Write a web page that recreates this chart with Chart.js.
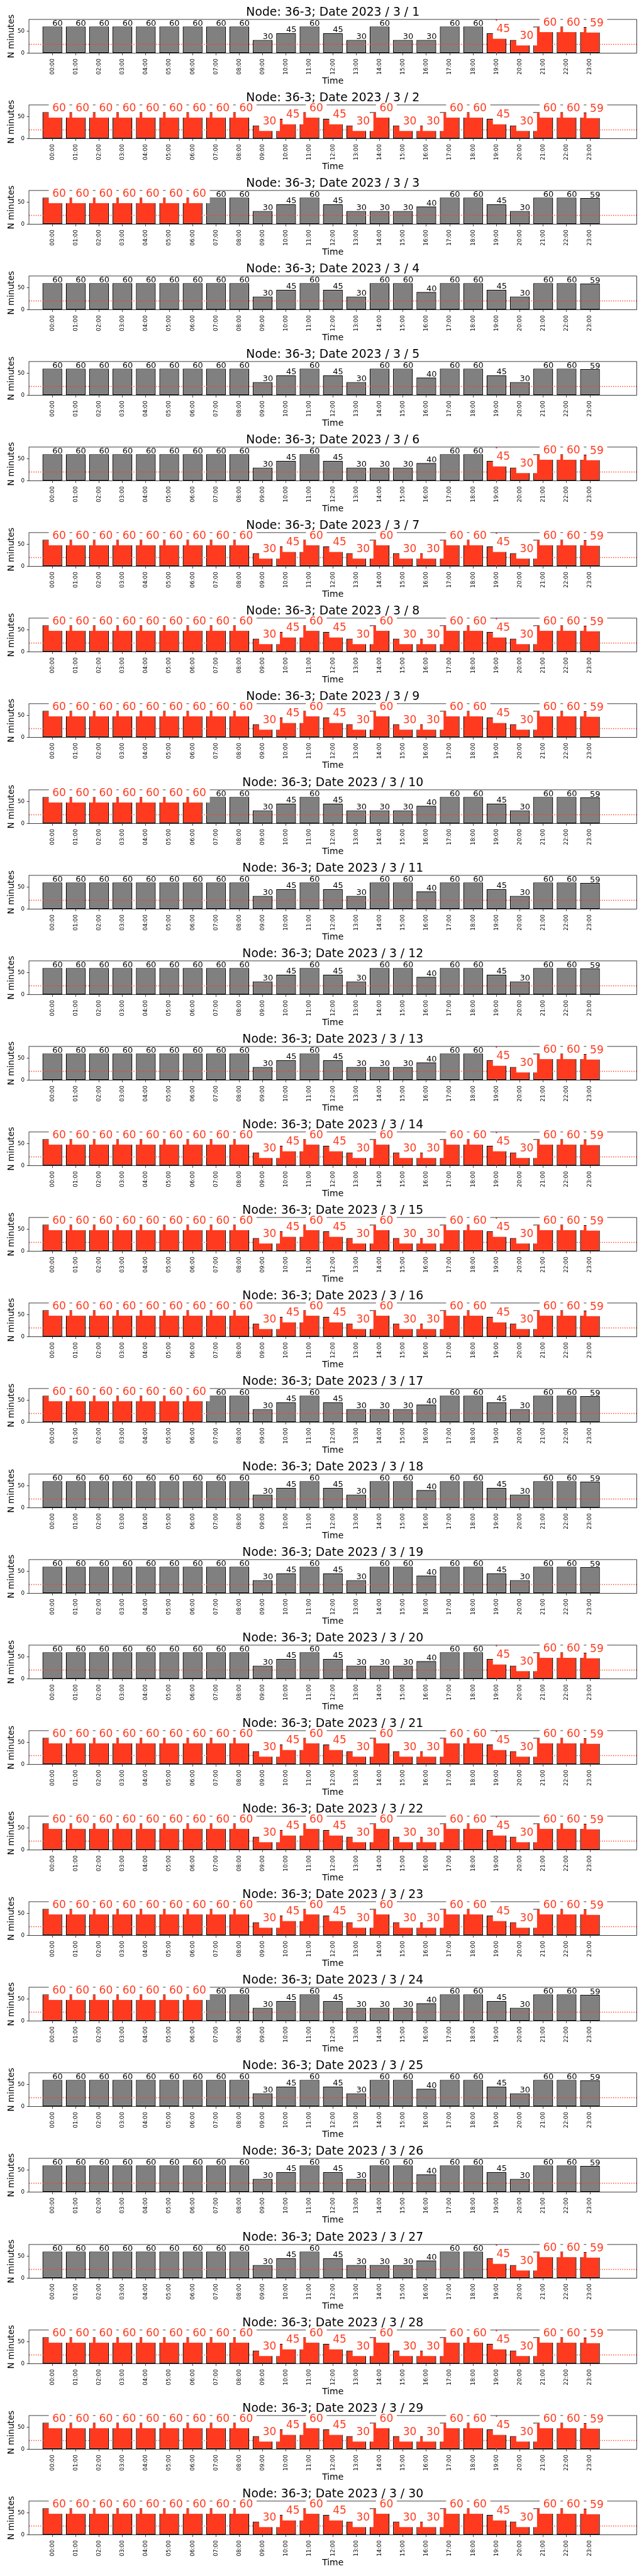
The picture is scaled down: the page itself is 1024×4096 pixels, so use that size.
<!DOCTYPE html>
<html>
<head>
<meta charset="utf-8">
<script src="https://cdn.jsdelivr.net/npm/chart.js@4.4.0/dist/chart.umd.min.js"></script>
<style>
html, body { margin: 0; padding: 0; background: #fff; }
#wrap { position: relative; width: 1024px; height: 4096px; overflow: hidden; background: #fff; }
.panel { position: absolute; left: 0; }
</style>
</head>
<body>
<div id="wrap"></div>
<script>
// Everything below is laid out in reference pixels and shrunk by S
const S = 0.682;

const hours = ['00:00', '01:00', '02:00', '03:00', '04:00', '05:00', '06:00', '07:00',
               '08:00', '09:00', '10:00', '11:00', '12:00', '13:00', '14:00', '15:00',
               '16:00', '17:00', '18:00', '19:00', '20:00', '21:00', '22:00', '23:00'];

// The three hourly profiles that repeat through the month
const profileA = [60, 60, 60, 60, 60, 60, 60, 60, 60, 30, 45, 60, 45, 30, 60, 30, 30, 60, 60, 45, 30, 60, 60, 59];
const profileB = [60, 60, 60, 60, 60, 60, 60, 60, 60, 30, 45, 60, 45, 30, 30, 30, 40, 60, 60, 45, 30, 60, 60, 59];
const profileC = [60, 60, 60, 60, 60, 60, 60, 60, 60, 30, 45, 60, 45, 30, 60, 60, 40, 60, 60, 45, 30, 60, 60, 59];

const days = [1, 2, 3, 4, 5, 6, 7, 8, 9, 10, 11, 12, 13, 14, 15, 16, 17, 18, 19, 20, 21, 22, 23, 24, 25, 26, 27, 28, 29, 30];
const dayProfile = ['A', 'A', 'B', 'C', 'C', 'B', 'A', 'A', 'A', 'B', 'C', 'C', 'B', 'A', 'A',
                    'A', 'B', 'C', 'C', 'B', 'A', 'A', 'A', 'B', 'C', 'C', 'B', 'A', 'A', 'A'];
// which hours are flagged red on each day
const dayRed = ['late', 'all', 'early', 'none', 'none', 'late', 'all', 'all', 'all', 'early',
                'none', 'none', 'late', 'all', 'all', 'all', 'early', 'none', 'none', 'late',
                'all', 'all', 'all', 'early', 'none', 'none', 'late', 'all', 'all', 'all'];
const redRanges = { none: [], early: [0, 1, 2, 3, 4, 5, 6], late: [19, 20, 21, 22, 23] };
// days with the red vertical marker at 19:00
const markedDays = [1, 6, 7, 8, 13, 14, 15, 20, 21, 22, 27, 28, 29];
const markHour = 19;

const threshold = 20;
const yMax = 76;
const yTicks = [0, 50];

const GRAY = '#808080';
const RED = '#ff3a1f';
const FONT = '"DejaVu Sans", sans-serif';

const PITCH = 199.5 * S;
const PANEL_H = 137;

Chart.defaults.font.family = FONT;
Chart.defaults.color = '#000';

function valuesFor(p) {
    if (p === 'A') return profileA;
    if (p === 'B') return profileB;
    return profileC;
}

function redMask(kind) {
    if (kind === 'all') return hours.map(() => true);
    const list = redRanges[kind];
    return hours.map((h, i) => list.includes(i));
}

// threshold line, marker, frame and bar labels
const panelDecor = {
    id: 'panelDecor',
    afterDatasetsDraw(chart) {
        const { ctx, chartArea: a, scales: { x, y } } = chart;
        const p = chart.options.plugins.panelDecor;
        ctx.save();

        const ty = y.getPixelForValue(threshold);
        ctx.strokeStyle = RED;
        ctx.lineWidth = 2 * S;
        ctx.setLineDash([2 * S, 3.3 * S]);
        ctx.beginPath();
        ctx.moveTo(a.left, ty);
        ctx.lineTo(a.right, ty);
        ctx.stroke();
        ctx.setLineDash([]);

        if (p.mark) {
            const mx = x.getPixelForValue(markHour);
            ctx.lineWidth = 2.8 * S;
            ctx.beginPath();
            ctx.moveTo(mx, a.top);
            ctx.lineTo(mx, a.bottom);
            ctx.stroke();
        }

        ctx.strokeStyle = '#000';
        ctx.lineWidth = 1.1 * S;
        ctx.strokeRect(a.left, a.top, a.right - a.left, a.bottom - a.top);

        ctx.textAlign = 'left';
        ctx.textBaseline = 'alphabetic';
        p.values.forEach((v, i) => {
            const px = x.getPixelForValue(i);
            const base = y.getPixelForValue(v) - 2 * S;
            const txt = String(v);
            if (p.red[i]) {
                ctx.font = `${25 * S}px ${FONT}`;
                const w = ctx.measureText(txt).width;
                ctx.fillStyle = '#fff';
                ctx.fillRect(px - 8.3 * S, base - 27 * S, w + 16.6 * S, 42 * S);
                ctx.fillStyle = RED;
            } else {
                ctx.font = `${19 * S}px ${FONT}`;
                ctx.fillStyle = '#000';
            }
            ctx.fillText(txt, px, base);
        });
        ctx.restore();
    },
    afterDraw(chart) {
        const { ctx, chartArea: a } = chart;
        const p = chart.options.plugins.panelDecor;
        const cx = (a.left + a.right) / 2;
        ctx.save();
        ctx.fillStyle = '#000';
        ctx.textAlign = 'center';
        ctx.textBaseline = 'alphabetic';
        ctx.font = `${27.6 * S}px ${FONT}`;
        ctx.fillText(p.title, cx, 36.7 * S);
        ctx.font = `${20.5 * S}px ${FONT}`;
        ctx.fillText('Time', cx, 195 * S);
        ctx.translate(31.6 * S, (a.top + a.bottom) / 2);
        ctx.rotate(-Math.PI / 2);
        ctx.font = `${20 * S}px ${FONT}`;
        ctx.fillText('N minutes', 0, 0);
        ctx.restore();
    }
};

const wrap = document.getElementById('wrap');

days.forEach((day, d) => {
    const values = valuesFor(dayProfile[d]);
    const red = redMask(dayRed[d]);

    const div = document.createElement('div');
    div.className = 'panel';
    div.style.top = Math.round(d * PITCH) + 'px';
    const canvas = document.createElement('canvas');
    canvas.width = 1024;
    canvas.height = PANEL_H;
    canvas.style.width = '1024px';
    canvas.style.height = PANEL_H + 'px';
    div.appendChild(canvas);
    wrap.appendChild(div);

    new Chart(canvas.getContext('2d'), {
        type: 'bar',
        data: {
            datasets: [{
                data: values.map((v, i) => ({ x: i, y: v })),
                backgroundColor: red.map(r => r ? RED : GRAY),
                borderColor: '#000',
                borderWidth: 2 * S,
                borderSkipped: false,
                categoryPercentage: 1,
                barPercentage: 0.845
            }]
        },
        options: {
            responsive: false,
            animation: false,
            events: [],
            layout: {
                padding: { left: 0, right: 1024 - 1484.5 * S, top: 45.3 * S, bottom: 0 }
            },
            plugins: {
                legend: { display: false },
                tooltip: { enabled: false },
                panelDecor: {
                    title: `Node: 36-3; Date 2023 / 3 / ${day}`,
                    values: values,
                    red: red,
                    mark: markedDays.includes(day)
                }
            },
            scales: {
                x: {
                    type: 'linear',
                    min: -1,
                    max: 25,
                    offset: false,
                    border: { display: false },
                    grid: { display: true, offset: false, drawOnChartArea: false, drawTicks: true,
                            tickLength: 4.9 * S, color: '#000', lineWidth: 1.1 * S },
                    ticks: {
                        autoSkip: false,
                        minRotation: 90,
                        maxRotation: 90,
                        padding: 7.8 * S,
                        font: { size: 13 * S },
                        callback: (v) => hours[v] ?? ''
                    },
                    afterBuildTicks: (s) => { s.ticks = hours.map((h, i) => ({ value: i })); },
                    afterFit: (s) => { s.height = PANEL_H - 124 * S; }
                },
                y: {
                    min: 0,
                    max: yMax,
                    border: { display: false },
                    grid: { display: true, drawOnChartArea: false, drawTicks: true,
                            tickLength: 4.9 * S, color: '#000', lineWidth: 1.1 * S },
                    ticks: { padding: 5.2 * S, font: { size: 12.8 * S } },
                    afterBuildTicks: (s) => { s.ticks = yTicks.map(v => ({ value: v })); },
                    afterFit: (s) => { s.width = 67.5 * S; }
                }
            }
        },
        plugins: [panelDecor]
    });
});
</script>
</body>
</html>
